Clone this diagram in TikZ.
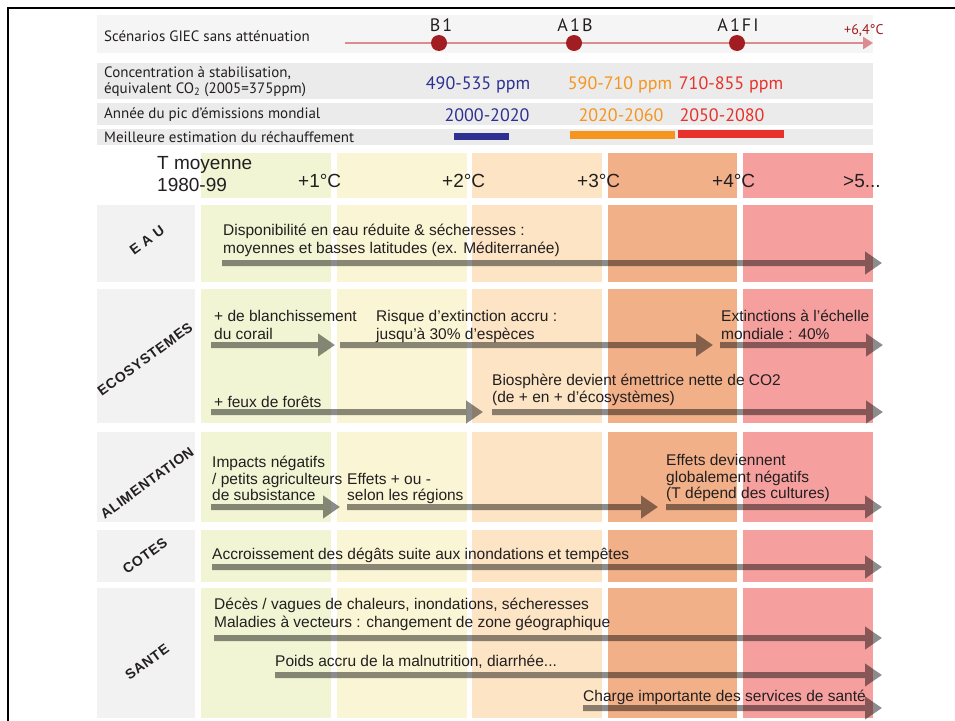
\documentclass[tikz,border=0pt]{standalone}
\usepackage{fontspec}
\setmainfont{Liberation Sans}
\newfontfamily\hdfont{PT Sans}
\newfontfamily\secfont[LetterSpace=5]{Liberation Sans}
\usetikzlibrary{arrows.meta}
\definecolor{cA}{HTML}{F1F5D4}
\definecolor{cB}{HTML}{FAF5D4}
\definecolor{cC}{HTML}{FCE4C4}
\definecolor{cD}{HTML}{F2B089}
\definecolor{cE}{HTML}{F5A09E}
\definecolor{labc}{HTML}{F2F2F2}
\definecolor{bandone}{HTML}{F5F5F5}
\definecolor{bandc}{HTML}{EBEBEB}
\definecolor{navy}{HTML}{2E3192}
\definecolor{orng}{HTML}{F7941D}
\definecolor{redd}{HTML}{E8312A}
\definecolor{dred}{HTML}{A21D21}
\definecolor{pinkline}{HTML}{DB8C8E}
\definecolor{txtc}{HTML}{231F20}
\tikzset{
 txt/.style={font=\fontsize{15.5}{18}\selectfont, text=txtc, inner sep=0pt, anchor=base west},
 hd/.style={font=\hdfont\fontsize{15}{16}\selectfont, text=txtc, inner sep=0pt, anchor=base west},
 val/.style={font=\hdfont\fontsize{18}{19}\selectfont, inner sep=0pt, anchor=base},
 scn/.style={font=\hdfont\fontsize{18}{19}\selectfont\addfontfeature{LetterSpace=12}, text=txtc, inner sep=0pt, anchor=base},
 tmp/.style={font=\fontsize{19}{20}\selectfont, text=txtc, inner sep=0pt, anchor=base west},
 sec/.style={font=\secfont\bfseries\fontsize{14}{15}\selectfont, text=txtc, rotate=36, inner sep=0pt},
 imp/.style={line width=6pt, draw=black, -{Triangle[length=17pt,width=22pt]}},
 dot/.style={circle, fill=dred, minimum size=16pt, inner sep=0pt},
}
\newcommand\impar[4]{\coordinate (#1s) at (#2,#4); \coordinate (#1e) at (#3,#4); \draw[imp] (#1s) -- (#1e);}
\begin{document}
\begin{tikzpicture}[x=1pt,y=-1pt]
\useasboundingbox (0,0) rectangle (955,720);
\fill[white] (0,0) rectangle (955,720);
% frame
\draw[line width=2.5pt] (8,721) -- (8,8) -- (956,8);
% header bands
\fill[bandone] (97,15) rectangle (873,53);
\fill[bandc] (97,63) rectangle (873,99);
\fill[bandc] (97,103) rectangle (873,125);
\fill[bandc] (97,129) rectangle (873,145);
\node[hd] (scen) at (104,41) {Scénarios GIEC sans atténuation};
\node[hd] (conc1) at (104,77) {Concentration à stabilisation,};
\node[hd] (conc2) at (104,93) {équivalent CO\textsubscript{2} (2005=375ppm)};
\node[hd] (pic) at (104,118) {Année du pic d’émissions mondial};
\node[hd] (best) at (104,142) {Meilleure estimation du réchauffement};
% scenario line
\coordinate (ls) at (345,43);
\coordinate (le) at (873,43);
\draw[pinkline, line width=2.5pt, -{Triangle[length=10pt,width=12pt]}] (ls) -- (le);
\node[dot] (b1) at (439,43) {};
\node[dot] (a1b) at (574,43) {};
\node[dot] (a1fi) at (737,43) {};
\node[scn] (lb1) at (441,31) {B1};
\node[scn] (la1b) at (575,31) {A1B};
\node[scn] (la1fi) at (738,31) {A1FI};
\node[font=\hdfont\fontsize{14}{15}\selectfont, text=dred, inner sep=0pt, anchor=base west] (max) at (844,34) {+6,4°C};
% values
\node[val, text=navy] (v1) at (478,89) {490-535 ppm};
\node[val, text=orng] (v2) at (620,89) {590-710 ppm};
\node[val, text=redd] (v3) at (731,89) {710-855 ppm};
\node[val, text=navy] (y1) at (487,121) {2000-2020};
\node[val, text=orng] (y2) at (621,121) {2020-2060};
\node[val, text=redd] (y3) at (722,121) {2050-2080};
\fill[navy] (454,133) rectangle (509,140);
\fill[orng] (570,131) rectangle (675,139);
\fill[redd] (678,130) rectangle (784,138);
% columns
\foreach \ya/\yb in {153/198, 205/282, 289/423, 432/522, 530/582, 588/718} {
  \fill[cA] (201,\ya) rectangle (331,\yb);
  \fill[cB] (337,\ya) rectangle (467,\yb);
  \fill[cC] (472,\ya) rectangle (602,\yb);
  \fill[cD] (608,\ya) rectangle (737,\yb);
  \fill[cE] (743,\ya) rectangle (873,\yb);
}
\foreach \ya/\yb in {205/282, 289/423, 432/522, 530/582, 588/718} {
  \fill[labc] (97,\ya) rectangle (195,\yb);
}
% temperature header
\node[tmp] (tm1) at (157,169) {T moyenne};
\node[tmp] (tm2) at (157,191) {1980-99};
\node[tmp] (t1) at (298,187) {+1°C};
\node[tmp] (t2) at (442,187) {+2°C};
\node[tmp] (t3) at (577,187) {+3°C};
\node[tmp] (t4) at (712,187) {+4°C};
\node[tmp] (t5) at (843,187) {>5...};
% sector labels
\node[sec] (seau) at (147,240) {E A U};
\node[sec] (seco) at (145,359) {ECOSYSTEMES};
\node[sec] (salim) at (147,483) {ALIMENTATION};
\node[sec] (scot) at (145,556) {COTES};
\node[sec] (ssan) at (147,662) {SANTE};
% texts
\node[txt] (e1) at (223,235) {Disponibilité en eau réduite \& sécheresses :};
\node[txt] (e2) at (223,253) {moyennes et basses latitudes (ex. Méditerranée)};
\node[txt] (k1) at (214,321) {+ de blanchissement};
\node[txt] (k2) at (214,339) {du corail};
\node[txt] (r1) at (376,321) {Risque d’extinction accru :};
\node[txt] (r2) at (376,339) {jusqu’à 30\% d’espèces};
\node[txt] (x1) at (721,321) {Extinctions à l’échelle};
\node[txt] (x2) at (721,339) {mondiale : 40\%};
\node[txt] (f1) at (214,407) {+ feux de forêts};
\node[txt] (bi1) at (492,385) {Biosphère devient émettrice nette de CO2};
\node[txt] (bi2) at (492,402) {(de + en + d’écosystèmes)};
\node[txt] (i1) at (212,467) {Impacts négatifs};
\node[txt] (i2) at (212,484) {/ petits agriculteurs};
\node[txt] (i3) at (212,500) {de subsistance};
\node[txt] (o1) at (347,484) {Effets + ou -};
\node[txt] (o2) at (347,500) {selon les régions};
\node[txt] (g1) at (666,465) {Effets deviennent};
\node[txt] (g2) at (666,482) {globalement négatifs};
\node[txt] (g3) at (666,498) {(T dépend des cultures)};
\node[txt] (c1) at (212,559) {Accroissement des dégâts suite aux inondations et tempêtes};
\node[txt] (s1) at (214,609) {Décès / vagues de chaleurs, inondations, sécheresses};
\node[txt] (s2) at (214,627) {Maladies à vecteurs : changement de zone géographique};
\node[txt] (s3) at (275,666) {Poids accru de la malnutrition, diarrhée...};
\node[txt] (s4) at (583,701) {Charge importante des services de santé};
% arrows
\begin{scope}[transparency group, opacity=0.45]
\impar{aeau}{222}{882}{263}
\impar{ak1}{211}{335}{345}
\impar{ak2}{340}{713}{345}
\impar{ak3}{720}{883}{345}
\impar{ak4}{211}{483}{412}
\impar{ak5}{492}{883}{412}
\impar{al1}{211}{340}{507}
\impar{al2}{347}{658}{507}
\impar{al3}{666}{882}{507}
\impar{ac1}{212}{882}{567}
\impar{as1}{214}{882}{638}
\impar{as2}{275}{882}{675}
\impar{as3}{583}{882}{708}
\end{scope}
\end{tikzpicture}
\end{document}
